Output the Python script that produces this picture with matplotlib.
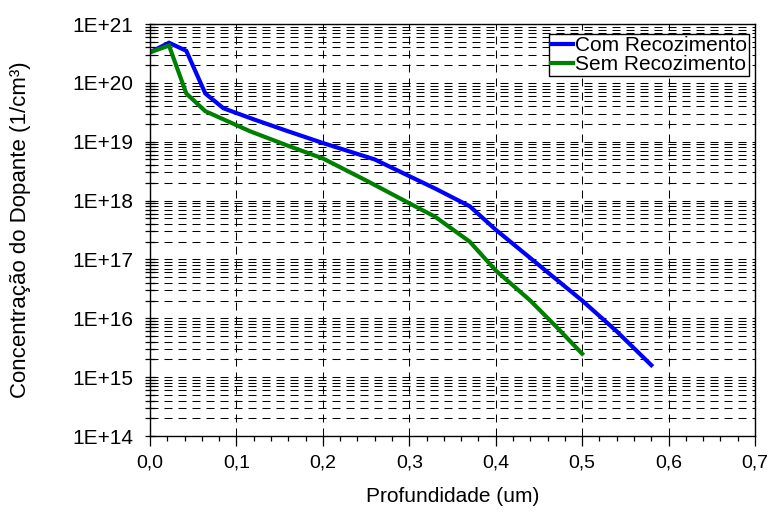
import matplotlib
matplotlib.use("Agg")
import matplotlib.pyplot as plt
from matplotlib.ticker import FuncFormatter, LogLocator, MultipleLocator, NullFormatter
import numpy as np

plt.rcParams['font.family'] = ['Liberation Sans', 'DejaVu Sans']

# Data
depth_com = [0.0, 0.022, 0.042, 0.064, 0.085, 0.12, 0.16, 0.20, 0.26, 0.30, 0.33, 0.37, 0.40, 0.45, 0.50, 0.54, 0.58]
conc_com = [3.3e20, 4.8e20, 3.5e20, 6.6e19, 3.7e19, 2.4e19, 1.5e19, 9.5e18, 5.0e18, 2.6e18, 1.6e18, 8.0e17, 3.2e17, 8.0e16, 2.0e16, 6.0e15, 1.6e15]

depth_sem = [0.0, 0.022, 0.042, 0.064, 0.085, 0.116, 0.16, 0.20, 0.25, 0.30, 0.33, 0.37, 0.40, 0.44, 0.47, 0.50]
conc_sem = [3.3e20, 4.3e20, 6.6e19, 3.3e19, 2.4e19, 1.5e19, 8.5e18, 5.2e18, 2.2e18, 9.0e17, 5.3e17, 2.0e17, 6.5e16, 2.0e16, 7.2e15, 2.5e15]

labels = ["Com Recozimento", "Sem Recozimento"]
xlabel = "Profundidade (um)"
ylabel = "Concentração do Dopante (1/cm³)"

fig = plt.figure(figsize=(7.71, 5.14), dpi=100)
ax = fig.add_axes([150/771, 1-436/514, 605/771, 412/514])

ax.plot(depth_com, conc_com, color='#0000FF', lw=3.0, label=labels[0], solid_joinstyle='miter')
ax.plot(depth_sem, conc_sem, color='#008000', lw=3.0, label=labels[1], solid_joinstyle='miter')

ax.set_yscale('log')
ax.set_xlim(0, 0.7)
ax.set_ylim(1e14, 1e21)

ax.xaxis.set_major_locator(MultipleLocator(0.1))
ax.xaxis.set_minor_locator(MultipleLocator(0.02))
ax.xaxis.set_major_formatter(FuncFormatter(lambda v, p: f"{v:.1f}".replace('.', ',')))

ax.yaxis.set_major_locator(LogLocator(base=10, numticks=20))
ax.yaxis.set_minor_locator(LogLocator(base=10, subs=np.arange(2, 10), numticks=20))
ax.yaxis.set_minor_formatter(NullFormatter())
ax.yaxis.set_major_formatter(FuncFormatter(lambda v, p: f"1E+{int(round(np.log10(v)))}"))

gkw = dict(color='black', linestyle=(0, (8/0.75*0.72, 6/0.75*0.72)), linewidth=0.75)
ax.grid(which='major', axis='x', **gkw)
ax.grid(which='both', axis='y', **gkw)

ax.tick_params(axis='x', which='major', direction='out', length=7, width=0.9, labelsize=14, pad=6)
ax.tick_params(axis='x', which='minor', direction='out', length=3.6, width=0.9)
ax.tick_params(axis='y', which='major', direction='inout', length=7.5, width=0.9, labelsize=15, pad=8)
ax.tick_params(axis='y', which='minor', direction='inout', length=7.5, width=0.9)

for s in ax.spines.values():
    s.set_linewidth(1.0)
    s.set_color('black')

ax.set_xlabel(xlabel, fontsize=15)
ax.set_ylabel(ylabel, fontsize=16)
ax.xaxis.set_label_coords(0.5, -(487-436)/412)
ax.yaxis.set_label_coords((31-150)/605, 0.5)

leg = ax.legend(loc='upper right', bbox_to_anchor=(0.99, 0.976), borderaxespad=0,
                fontsize=15, frameon=True, fancybox=False, framealpha=1,
                edgecolor='black', handlelength=1.05, handletextpad=0.08,
                borderpad=0.1, labelspacing=0.0)
leg.get_frame().set_linewidth(1.0)

fig.savefig("out.png", dpi=100)
